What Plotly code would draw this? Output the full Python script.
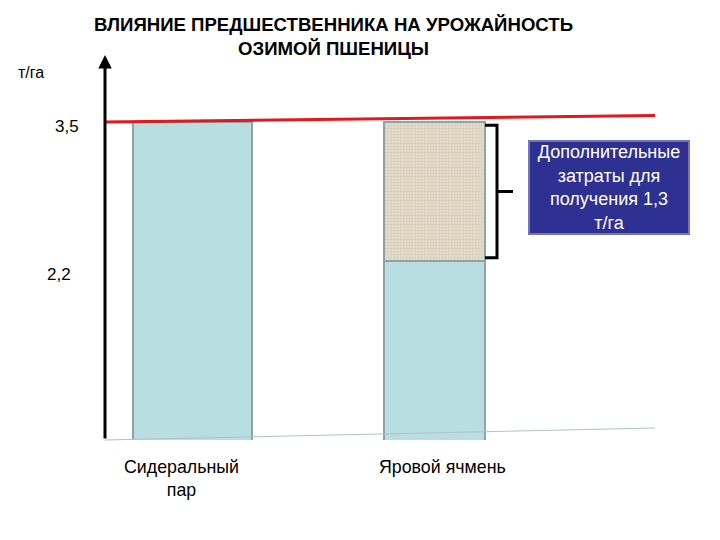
import plotly.graph_objects as go

# chart values
title = "ВЛИЯНИЕ ПРЕДШЕСТВЕННИКА НА УРОЖАЙНОСТЬ<br>ОЗИМОЙ ПШЕНИЦЫ"
categories = ["Сидеральный<br>пар", "Яровой ячмень"]
base_yield = [3.5, 2.2]
extra_yield = [None, 1.3]
tick_values = [3.5, 2.2]
tick_labels = ["3,5", "2,2"]
unit_label = "т/га"
note_text = "Дополнительные<br>затраты для<br>получения 1,3<br>т/га"

FONT = "Liberation Sans, Arial, sans-serif"

# the page body adds an 8px margin, so the figure starts at (8, 8)
OFF = 8
W, H = 720, 540
# plot area in page pixels: x 105..655, y 52..440
L, R = 105 - OFF, W - (655 - OFF)
T, B = 52 - OFF, H - (440 - OFF)
PW, PH = W - L - R, H - T - B


def px(x):
    # page pixel -> paper x
    return (x - OFF - L) / PW


def py(y):
    # page pixel -> paper y
    return (H - B - (y - OFF)) / PH


bar_widths = [0.492, 0.417]

fig = go.Figure()

fig.add_trace(go.Bar(
    x=categories, y=base_yield, width=bar_widths,
    marker=dict(color="#B9DEE1", line=dict(color="#8FA3A6", width=2)),
    showlegend=False, hoverinfo="skip",
))

fig.add_trace(go.Bar(
    x=categories, y=extra_yield, width=bar_widths,
    marker=dict(color="#DCD4C1", line=dict(color="#8FA3A6", width=2),
                pattern=dict(shape="+", bgcolor="#E3DCCB", fgcolor="#B8AF98",
                             size=3, solidity=0.25, fillmode="overlay")),
    showlegend=False, hoverinfo="skip",
))

# red level line at the top yield
top_level = base_yield[0]
fig.add_shape(type="line", xref="paper", yref="y", x0=0, x1=1,
              y0=top_level, y1=top_level + 0.06,
              line=dict(color="#E0191E", width=3))

# thin baseline
fig.add_shape(type="line", xref="paper", yref="paper", x0=0, x1=1,
              y0=0, y1=py(428), line=dict(color="#AFC3C6", width=1))

# bracket next to the extra part of bar 2
b_top = base_yield[1] + extra_yield[1] - 0.03
b_bot = base_yield[1] + 0.03
b_mid = base_yield[1] + extra_yield[1] / 2
x1, x2, x3 = px(485), px(497), px(513)
fig.add_shape(type="path", xref="paper", yref="y",
              path=f"M {x1},{b_top} L {x2},{b_top} L {x2},{b_bot} L {x1},{b_bot} "
                   f"M {x2},{b_mid} L {x3},{b_mid}",
              line=dict(color="black", width=3))

annotations = [
    # y axis arrow
    dict(x=0, y=py(55), xref="paper", yref="paper", text="", showarrow=True,
         ax=0, ay=385, arrowhead=2, arrowsize=0.9, arrowwidth=3, arrowcolor="black"),
    dict(x=px(333), y=py(37), xref="paper", yref="paper", text=f"<b>{title}</b>",
         xanchor="center", yanchor="middle", showarrow=False,
         font=dict(size=18.6, color="black", family=FONT)),
    dict(x=px(31), y=py(72), xref="paper", yref="paper", text=unit_label,
         xanchor="center", yanchor="middle", showarrow=False,
         font=dict(size=16, color="black", family=FONT)),
    dict(x=px(609), y=py(187), xref="paper", yref="paper", text=note_text,
         xanchor="center", yanchor="middle", showarrow=False,
         width=156, height=89, bgcolor="#2E3192",
         bordercolor="#7375B5", borderwidth=2,
         font=dict(size=18, color="white", family=FONT)),
]
label_x = [px(67), px(59)]
label_y = [py(126), py(274)]
for t, lx, ly in zip(tick_labels, label_x, label_y):
    annotations.append(dict(x=lx, y=ly, xref="paper", yref="paper", text=t,
                            xanchor="center", yanchor="middle", showarrow=False,
                            font=dict(size=17, color="black", family=FONT)))

# category labels under the bars
cat_shift = [-11, 8]
cat_y = [py(478), py(467)]
for c, xs, cy in zip(categories, cat_shift, cat_y):
    annotations.append(dict(x=c, y=cy, xref="x", yref="paper", text=c,
                            xanchor="center", yanchor="middle", xshift=xs,
                            showarrow=False,
                            font=dict(size=17.8, color="black", family=FONT)))

fig.update_layout(
    width=W, height=H, barmode="stack", bargap=0,
    margin=dict(l=L, r=R, t=T, b=B),
    paper_bgcolor="white", plot_bgcolor="white",
    font=dict(family=FONT, color="black"),
    annotations=annotations,
    xaxis=dict(type="category", range=[-0.3616, 1.911], showline=False,
               showgrid=False, zeroline=False, ticks="", showticklabels=False),
    yaxis=dict(range=[0.525, 4.155], visible=False),
)

fig.write_html("out.html")
